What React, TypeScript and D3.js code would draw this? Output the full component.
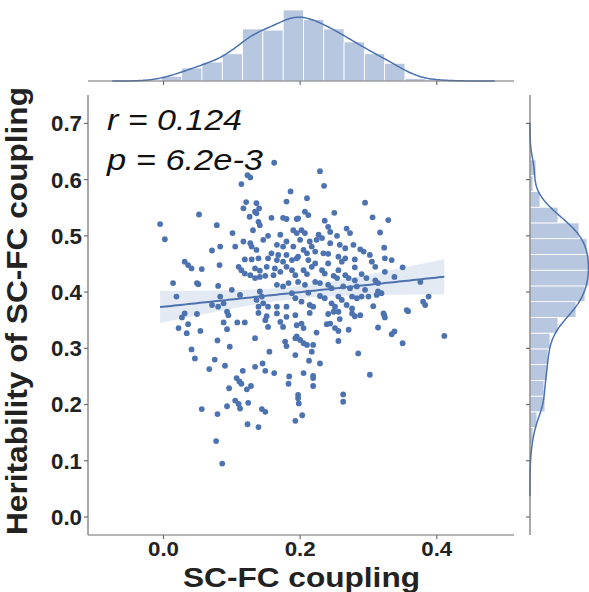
import React from "react";
import * as d3 from "d3";

// Scatter data: SC-FC coupling (x) vs heritability (y)
const couplingX: number[] = [
  0.162, 0.123, 0.127, 0.114, 0.186, 0.180, 0.121, 0.136, 0.140, 0.134, 0.136, 0.117, 0.052, 0.126, 0.158, 0.175, 0.180, 0.195,
  -0.005, 0.078, 0.139, 0.141, 0.131, 0.190, 0.195, 0.101, 0.153, 0.171, 0.002, 0.146, 0.127, 0.129, 0.180, 0.117, 0.083, 0.105,
  0.166, 0.175, 0.190, 0.071, 0.136, 0.158, 0.168, 0.180, 0.119, 0.129, 0.139, 0.153, 0.166, 0.175, 0.188, 0.195, 0.031, 0.036,
  0.041, 0.082, 0.110, 0.114, 0.119, 0.056, 0.134, 0.141, 0.151, 0.163, 0.171, 0.161, 0.180, 0.188, 0.193, 0.127, 0.134, 0.141,
  0.149, 0.014, 0.049, 0.051, 0.080, 0.100, 0.166, 0.175, 0.183, 0.019, 0.083, 0.112, 0.141, 0.144, 0.136, 0.146, 0.188, 0.193,
  0.071, 0.080, 0.088, 0.139, 0.153, 0.166, 0.180, 0.031, 0.093,
  0.229, 0.235, 0.210, 0.295, 0.250, 0.207, 0.212, 0.306, 0.329, 0.197, 0.236, 0.241, 0.244, 0.268, 0.273, 0.317, 0.202, 0.207,
  0.227, 0.232, 0.224, 0.254, 0.200, 0.214, 0.217, 0.244, 0.258, 0.266, 0.278, 0.323, 0.288, 0.293, 0.205, 0.210, 0.234, 0.241,
  0.222, 0.302, 0.256, 0.266, 0.261, 0.280, 0.324, 0.334, 0.197, 0.212, 0.222, 0.217, 0.241, 0.305, 0.310, 0.350, 0.280, 0.205,
  0.210, 0.232, 0.236, 0.256, 0.266, 0.324, 0.290, 0.297, 0.249, 0.254, 0.271, 0.280, 0.338, 0.310, 0.314, 0.222, 0.229, 0.197,
  0.207, 0.376, 0.241, 0.246, 0.263, 0.273, 0.283, 0.295, 0.314, 0.319, 0.312, 0.212, 0.388, 0.380, 0.383, 0.229, 0.236, 0.256,
  0.261, 0.276, 0.283, 0.290, 0.300, 0.202, 0.214, 0.219, 0.307, 0.246, 0.251, 0.268, 0.276, 0.356, 0.322,
  0.027, 0.049, 0.095, 0.022, 0.034, 0.036, 0.054, 0.088, 0.093, 0.108, 0.119, 0.139, 0.151, 0.149, 0.153, 0.166, 0.171, 0.175,
  0.180, 0.193, 0.195, 0.193, 0.079, 0.134, 0.097, 0.178, 0.180, 0.041, 0.155, 0.046, 0.075, 0.193, 0.067, 0.090, 0.116, 0.134,
  0.145, 0.149, 0.162, 0.184, 0.183, 0.107, 0.111, 0.114, 0.122, 0.128, 0.096, 0.105, 0.110, 0.112, 0.124, 0.093, 0.056, 0.079,
  0.144, 0.149, 0.193, 0.123, 0.139, 0.077, 0.086,
  0.214, 0.241, 0.249, 0.256, 0.276, 0.280, 0.288, 0.323, 0.324, 0.358, 0.258, 0.202, 0.205, 0.239, 0.244, 0.251, 0.256, 0.271,
  0.314, 0.224, 0.334, 0.338, 0.411, 0.195, 0.200, 0.205, 0.210, 0.256, 0.350, 0.219, 0.217, 0.285, 0.213, 0.229, 0.205, 0.219,
  0.219, 0.219, 0.302, 0.197, 0.197, 0.198, 0.263, 0.263, 0.203,
];
const heritY: number[] = [
  0.630, 0.608, 0.604, 0.592, 0.579, 0.561, 0.560, 0.558, 0.549, 0.543, 0.540, 0.549, 0.538, 0.534, 0.532, 0.532, 0.530, 0.530,
  0.521, 0.519, 0.525, 0.519, 0.510, 0.510, 0.505, 0.505, 0.500, 0.502, 0.494, 0.493, 0.487, 0.481, 0.490, 0.490, 0.481, 0.481,
  0.484, 0.481, 0.481, 0.474, 0.475, 0.469, 0.466, 0.466, 0.458, 0.458, 0.460, 0.460, 0.457, 0.454, 0.457, 0.460, 0.454, 0.448,
  0.442, 0.448, 0.445, 0.439, 0.433, 0.441, 0.442, 0.438, 0.445, 0.442, 0.436, 0.430, 0.445, 0.439, 0.430, 0.430, 0.425, 0.427,
  0.429, 0.416, 0.416, 0.414, 0.411, 0.404, 0.413, 0.410, 0.416, 0.392, 0.392, 0.395, 0.401, 0.392, 0.386, 0.380, 0.398, 0.389,
  0.377, 0.374, 0.380, 0.374, 0.374, 0.374, 0.374, 0.362, 0.365,
  0.615, 0.589, 0.567, 0.559, 0.541, 0.543, 0.537, 0.533, 0.528, 0.531, 0.527, 0.516, 0.507, 0.513, 0.505, 0.506, 0.510, 0.505,
  0.502, 0.496, 0.493, 0.500, 0.493, 0.490, 0.481, 0.487, 0.484, 0.478, 0.484, 0.479, 0.476, 0.472, 0.475, 0.469, 0.469, 0.468,
  0.472, 0.466, 0.463, 0.460, 0.454, 0.458, 0.460, 0.457, 0.463, 0.457, 0.451, 0.445, 0.451, 0.454, 0.445, 0.444, 0.444, 0.439,
  0.432, 0.439, 0.433, 0.439, 0.430, 0.436, 0.432, 0.425, 0.429, 0.425, 0.425, 0.421, 0.427, 0.421, 0.416, 0.418, 0.416, 0.418,
  0.413, 0.418, 0.413, 0.407, 0.410, 0.407, 0.410, 0.404, 0.401, 0.398, 0.395, 0.399, 0.392, 0.383, 0.377, 0.393, 0.389, 0.392,
  0.386, 0.392, 0.389, 0.392, 0.392, 0.383, 0.377, 0.374, 0.375, 0.380, 0.374, 0.377, 0.371, 0.368, 0.362,
  0.355, 0.361, 0.359, 0.336, 0.327, 0.343, 0.331, 0.346, 0.334, 0.346, 0.346, 0.363, 0.357, 0.350, 0.338, 0.362, 0.347, 0.338,
  0.356, 0.359, 0.341, 0.318, 0.314, 0.318, 0.303, 0.312, 0.304, 0.298, 0.294, 0.282, 0.280, 0.288, 0.263, 0.269, 0.260, 0.267,
  0.273, 0.260, 0.256, 0.250, 0.237, 0.247, 0.241, 0.237, 0.227, 0.233, 0.229, 0.207, 0.201, 0.193, 0.203, 0.197, 0.192, 0.183,
  0.192, 0.187, 0.171, 0.165, 0.160, 0.135, 0.095,
  0.363, 0.361, 0.365, 0.365, 0.362, 0.357, 0.359, 0.359, 0.355, 0.366, 0.352, 0.344, 0.336, 0.343, 0.344, 0.336, 0.331, 0.333,
  0.337, 0.328, 0.325, 0.330, 0.322, 0.321, 0.315, 0.309, 0.306, 0.313, 0.309, 0.306, 0.294, 0.291, 0.278, 0.273, 0.256, 0.251,
  0.247, 0.233, 0.253, 0.217, 0.211, 0.202, 0.218, 0.205, 0.181,
];

// Marginal histograms (counts)
const topBinStart = -0.003;
const topBinWidth = 0.0297;
const topCounts = [4, 11, 16, 23, 44, 43, 60, 52, 44, 33, 23, 15, 2, 1];

const rightBinStart = 0.103;
const rightBinWidth = 0.028;
const rightCounts = [1, 3, 7, 15, 14, 17, 18, 20, 28, 46, 55, 59, 59, 57, 49, 28, 10, 3, 6];

const xTicks = [0.0, 0.2, 0.4];
const yTicks = [0.0, 0.1, 0.2, 0.3, 0.4, 0.5, 0.6, 0.7];

const annotR = "r = 0.124";
const annotP = "p = 6.2e-3";
const xLabel = "SC-FC coupling";
const yLabel = "Heritability of SC-FC coupling";

const BLUE = "#4c72b0";
const SPINE = "#707070";
const TEXT = "#222";
const FONT = "'Liberation Sans', Arial, Helvetica, sans-serif";

function kdeFromBins(start: number, width: number, counts: number[], bw: number, lo: number, hi: number, steps = 240) {
  const total = d3.sum(counts);
  const centers = counts.map((_, i) => start + width * (i + 0.5));
  const grid = d3.range(steps + 1).map((i) => lo + ((hi - lo) * i) / steps);
  return grid.map((g) => {
    let s = 0;
    centers.forEach((c, i) => {
      const z = (g - c) / bw;
      s += counts[i] * Math.exp(-0.5 * z * z);
    });
    const dens = s / (total * bw * Math.sqrt(2 * Math.PI));
    return [g, dens * total * width] as [number, number];
  });
}

export default function App() {
  const W = 589;
  const H = 592;
  const x = d3.scaleLinear().domain([-0.1105, 0.513]).range([88, 514]);
  const y = d3.scaleLinear().domain([-0.032, 0.7505]).range([535, 95]);

  const topBase = 81;
  const ct = d3.scaleLinear().domain([0, 60]).range([topBase, 10]);
  const rightBase = 530;
  const cr = d3.scaleLinear().domain([0, 59]).range([rightBase, 589]);

  const n = couplingX.length;
  const mx = d3.mean(couplingX)!;
  const my = d3.mean(heritY)!;
  let sxx = 0, sxy = 0;
  for (let i = 0; i < n; i++) {
    sxx += (couplingX[i] - mx) ** 2;
    sxy += (couplingX[i] - mx) * (heritY[i] - my);
  }
  const b = sxy / sxx;
  const a = my - b * mx;
  let sse = 0;
  for (let i = 0; i < n; i++) sse += (heritY[i] - a - b * couplingX[i]) ** 2;
  const s = Math.sqrt(sse / (n - 2));
  const [xmin, xmax] = d3.extent(couplingX) as [number, number];
  const grid = d3.range(0, 101).map((i) => xmin + ((xmax - xmin) * i) / 100);
  const band = grid.map((g) => {
    const yh = a + b * g;
    const se = s * Math.sqrt(1 / n + (g - mx) ** 2 / sxx);
    return { g, yh, lo: yh - 1.97 * se, hi: yh + 1.97 * se };
  });
  const areaGen = d3
    .area<{ g: number; lo: number; hi: number }>()
    .x((d) => x(d.g))
    .y0((d) => y(d.lo))
    .y1((d) => y(d.hi));
  const lineGen = d3
    .line<{ g: number; yh: number }>()
    .x((d) => x(d.g))
    .y((d) => y(d.yh));

  const bwTop = 0.024;
  const topLo = topBinStart - 3 * bwTop;
  const topHi = topBinStart + topBinWidth * topCounts.length + 3 * bwTop;
  const topKde = kdeFromBins(topBinStart, topBinWidth, topCounts, bwTop, topLo, topHi);
  const topLine = d3
    .line<[number, number]>()
    .x((d) => x(d[0]))
    .y((d) => ct(d[1]))
    .curve(d3.curveBasis);

  const bwRight = 0.022;
  const rLo = rightBinStart - 3 * bwRight;
  const rHi = rightBinStart + rightBinWidth * rightCounts.length + 3 * bwRight;
  const rightKde = kdeFromBins(rightBinStart, rightBinWidth, rightCounts, bwRight, rLo, rHi);
  const rightLine = d3
    .line<[number, number]>()
    .x((d) => cr(d[1]))
    .y((d) => y(d[0]))
    .curve(d3.curveBasis);

  const histFill = "rgb(183,199,223)";

  return (
    <svg
      width={W}
      height={H}
      style={{ position: "absolute", left: 0, top: 0, background: "#fff" }}
      fontFamily={FONT}
    >
      <rect x={0} y={0} width={W} height={H} fill="#fff" />

      {/* top marginal histogram */}
      <g>
        {topCounts.map((c, i) => {
          const x0 = topBinStart + i * topBinWidth;
          const x1 = x0 + topBinWidth;
          return (
            <rect
              key={i}
              x={x(x0)}
              y={ct(c)}
              width={x(x1) - x(x0)}
              height={ct(0) - ct(c)}
              fill={histFill}
              stroke="#fff"
              strokeWidth={0.8}
            />
          );
        })}
        <path d={topLine(topKde) || ""} fill="none" stroke={BLUE} strokeWidth={1.5} />
        <line x1={88} x2={514} y1={topBase} y2={topBase} stroke={SPINE} strokeWidth={1.2} />
        {xTicks.map((t) => (
          <line key={t} x1={x(t)} x2={x(t)} y1={topBase} y2={topBase + 4} stroke={SPINE} strokeWidth={1.2} />
        ))}
      </g>

      {/* right marginal histogram */}
      <g>
        {rightCounts.map((c, i) => {
          const y0 = rightBinStart + i * rightBinWidth;
          const y1 = y0 + rightBinWidth;
          return (
            <rect
              key={i}
              x={cr(0)}
              y={y(y1)}
              width={cr(c) - cr(0)}
              height={y(y0) - y(y1)}
              fill={histFill}
              stroke="#fff"
              strokeWidth={0.8}
            />
          );
        })}
        <path d={rightLine(rightKde) || ""} fill="none" stroke={BLUE} strokeWidth={1.5} />
        <line x1={rightBase} x2={rightBase} y1={95} y2={535} stroke={SPINE} strokeWidth={1.2} />
        {yTicks.map((t) => (
          <line key={t} x1={rightBase - 4} x2={rightBase} y1={y(t)} y2={y(t)} stroke={SPINE} strokeWidth={1.2} />
        ))}
      </g>

      {/* regression band + line */}
      <path d={areaGen(band) || ""} fill={BLUE} fillOpacity={0.15} stroke="none" />
      <path d={lineGen(band) || ""} fill="none" stroke={BLUE} strokeWidth={2} />

      {/* scatter */}
      <g>
        {couplingX.map((cx, i) => (
          <circle key={i} cx={x(cx)} cy={y(heritY[i])} r={2.9} fill={BLUE} />
        ))}
      </g>

      {/* main axes */}
      <line x1={88} x2={88} y1={95} y2={535} stroke={SPINE} strokeWidth={1.2} />
      <line x1={88} x2={514} y1={535} y2={535} stroke={SPINE} strokeWidth={1.2} />
      {yTicks.map((t) => (
        <g key={t}>
          <line x1={84} x2={88} y1={y(t)} y2={y(t)} stroke={SPINE} strokeWidth={1.2} />
          <text
            x={82}
            y={y(t)}
            dy="0.36em"
            textAnchor="end"
            fontSize={22}
            fontWeight="bold"
            fill={TEXT}
            textLength={31}
            lengthAdjust="spacingAndGlyphs"
          >
            {t.toFixed(1)}
          </text>
        </g>
      ))}
      {xTicks.map((t) => (
        <g key={t}>
          <line x1={x(t)} x2={x(t)} y1={535} y2={539} stroke={SPINE} strokeWidth={1.2} />
          <text
            x={x(t)}
            y={556}
            textAnchor="middle"
            fontSize={21}
            fontWeight="bold"
            fill={TEXT}
            textLength={31}
            lengthAdjust="spacingAndGlyphs"
          >
            {t.toFixed(1)}
          </text>
        </g>
      ))}

      {/* axis labels */}
      <text
        x={301.5}
        y={587}
        textAnchor="middle"
        fontSize={27}
        fontWeight="bold"
        fill={TEXT}
        textLength={237}
        lengthAdjust="spacingAndGlyphs"
      >
        {xLabel}
      </text>
      <text
        transform="rotate(-90)"
        x={-311}
        y={27}
        textAnchor="middle"
        fontSize={29}
        fontWeight="bold"
        fill={TEXT}
        textLength={448}
        lengthAdjust="spacingAndGlyphs"
      >
        {yLabel}
      </text>

      {/* annotations */}
      <text x={107} y={130} fontSize={30} fontStyle="italic" fill="#111" textLength={135} lengthAdjust="spacingAndGlyphs">
        {annotR}
      </text>
      <text x={107} y={170} fontSize={30} fontStyle="italic" fill="#111" textLength={156} lengthAdjust="spacingAndGlyphs">
        {annotP}
      </text>
    </svg>
  );
}
